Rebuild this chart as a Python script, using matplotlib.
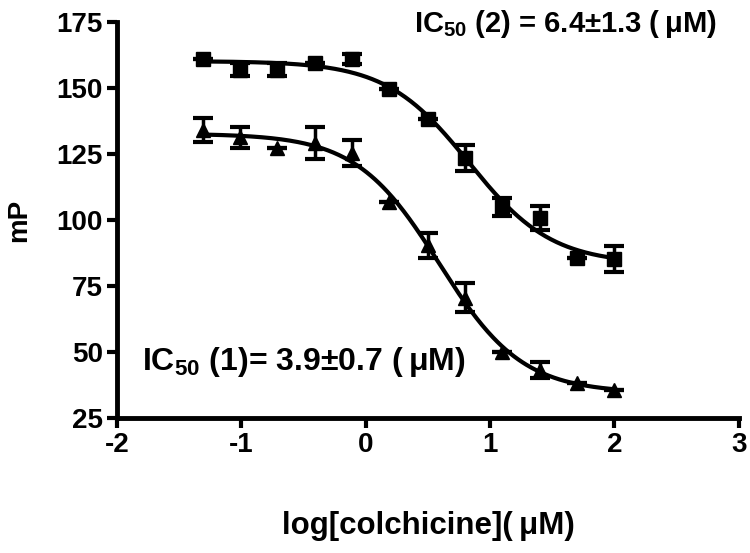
import numpy as np
import matplotlib
matplotlib.use("Agg")
import matplotlib.pyplot as plt

plt.rcParams['font.family'] = ['Liberation Sans', 'DejaVu Sans']
plt.rcParams['font.weight'] = 'bold'
plt.rcParams['mathtext.fontset'] = 'custom'
plt.rcParams['mathtext.bf'] = 'Liberation Sans:bold'
plt.rcParams['mathtext.rm'] = 'Liberation Sans:bold'
plt.rcParams['mathtext.default'] = 'bf'
plt.rcParams['axes.unicode_minus'] = False

# log[colchicine] (uM), 2-fold dilutions from 100 uM
log_conc = [-1.31, -1.01, -0.71, -0.41, -0.11, 0.19, 0.50, 0.80, 1.10, 1.40, 1.70, 2.00]

# series 2 (squares)
mp_sq = [161.0, 157.0, 157.0, 159.5, 161.0, 149.6, 138.3, 123.5, 105.0, 100.8, 85.6, 85.2]
err_sq = [0.0, 2.5, 2.5, 0.0, 2.0, 0.0, 0.0, 5.0, 3.5, 4.7, 0.0, 5.0]

# series 1 (triangles)
mp_tri = [134.1, 131.4, 127.3, 129.2, 125.4, 106.8, 90.5, 70.5, 50.0, 43.2, 38.3, 35.6]
err_tri = [4.5, 4.0, 0.0, 6.0, 5.0, 0.0, 4.7, 5.5, 0.0, 3.0, 0.0, 0.0]

label_sq = 'IC$_{50}$ (2) = 6.4±1.3 (\u2009μM)'
label_tri = 'IC$_{50}$ (1)= 3.9±0.7 (\u2009μM)'


def fit_sigmoid(x, y):
    # grid over logIC50 and hill slope, top/bottom by linear least squares
    x = np.asarray(x)
    y = np.asarray(y)
    cs = np.linspace(-0.5, 2.0, 251)[:, None, None]
    hs = np.linspace(0.4, 3.0, 131)[None, :, None]
    f = 1.0 / (1.0 + 10 ** ((x[None, None, :] - cs) * hs))
    fm = f.mean(axis=2, keepdims=True)
    ym = y.mean()
    b = ((f - fm) * (y - ym)).sum(axis=2, keepdims=True) / ((f - fm) ** 2).sum(axis=2, keepdims=True)
    a = ym - b * fm
    sse = ((a + b * f - y) ** 2).sum(axis=2)
    i, j = np.unravel_index(np.argmin(sse), sse.shape)
    c = cs[i, 0, 0]
    h = hs[0, j, 0]
    bottom = a[i, j, 0]
    span = b[i, j, 0]
    return lambda t: bottom + span / (1.0 + 10 ** ((t - c) * h))


fig = plt.figure(figsize=(7.5, 5.53), dpi=100)
ax = fig.add_axes([0.156, 0.244, 0.829, 0.716])

xs = np.linspace(min(log_conc), max(log_conc), 300)
curve_sq = fit_sigmoid(log_conc, mp_sq)
curve_tri = fit_sigmoid(log_conc, mp_tri)
ax.plot(xs, curve_sq(xs), color='black', lw=3.0, zorder=2)
ax.plot(xs, curve_tri(xs), color='black', lw=3.0, zorder=2)

ax.errorbar(log_conc, mp_sq, yerr=err_sq, fmt='s', color='black', ms=9.5,
            capsize=7, elinewidth=2.5, capthick=3, zorder=3)
ax.errorbar(log_conc, mp_tri, yerr=err_tri, fmt='^', color='black', ms=10.5,
            capsize=7, elinewidth=2.5, capthick=3, zorder=3)

ax.text(0.39, 171.2, label_sq, fontsize=21, fontweight='bold', va='baseline', ha='left',
        clip_on=False)
ax.text(-1.80, 43.2, label_tri, fontsize=23, fontweight='bold', va='baseline', ha='left')

ax.set_xlim(-2, 3)
ax.set_ylim(25, 175)
ax.set_xticks([-2, -1, 0, 1, 2, 3])
ax.set_yticks([25, 50, 75, 100, 125, 150, 175])
ax.spines['top'].set_visible(False)
ax.spines['right'].set_visible(False)
ax.spines['left'].set_linewidth(3.5)
ax.spines['bottom'].set_linewidth(3.5)
ax.tick_params(width=3, length=7, labelsize=20, direction='out', pad=3)
for lab in ax.get_xticklabels() + ax.get_yticklabels():
    lab.set_fontweight('bold')

ax.set_xlabel('log[colchicine](\u2009μM)', fontsize=22.5, fontweight='bold', labelpad=38)
ax.set_ylabel('mP', fontsize=20, fontweight='bold', labelpad=18)

fig.savefig('out.png', dpi=100)
